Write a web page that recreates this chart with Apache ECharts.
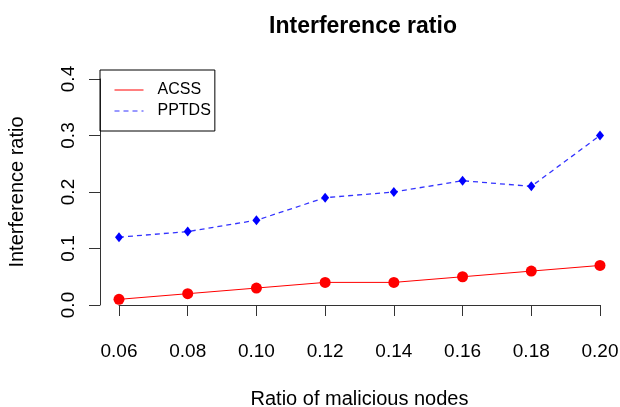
<!DOCTYPE html>
<html>
<head>
<meta charset="utf-8">
<script src="https://cdn.jsdelivr.net/npm/echarts@6/dist/echarts.min.js"></script>
<style>
  html, body { margin: 0; padding: 0; background: #fff; }
  #chart { width: 620px; height: 407px; }
</style>
</head>
<body>
<div id="chart"></div>
<script>
// values
var ratios = [0.06, 0.08, 0.10, 0.12, 0.14, 0.16, 0.18, 0.20];
var acss = [0.01, 0.02, 0.03, 0.04, 0.04, 0.05, 0.06, 0.07];
var pptds = [0.12, 0.13, 0.15, 0.19, 0.20, 0.22, 0.21, 0.30];

function pairs(xs, ys) {
    return xs.map(function(x, i) { return [x, ys[i]]; });
}

var FONT = 'Liberation Sans, Arial, sans-serif';

var chart = echarts.init(document.getElementById('chart'));

var option = {
    backgroundColor: '#fff',
    animation: false,
    title: {
        text: 'Interference ratio',
        left: 358,
        top: 10,
        textAlign: 'center',
        textStyle: { fontFamily: FONT, fontSize: 23, fontWeight: 'bold', color: '#000' }
    },
    legend: {
        left: 100,
        top: 70,
        orient: 'vertical',
        itemWidth: 29,
        itemHeight: 14,
        itemGap: 5,
        padding: [12, 4, 12, 14],
        borderColor: '#000',
        borderWidth: 1,
        borderRadius: 0,
        itemStyle: { opacity: 0 },
        lineStyle: { width: 1 },
        textStyle: { fontFamily: FONT, fontSize: 16, color: '#000', padding: [0, 0, 0, 9] },
        data: ['ACSS', 'PPTDS']
    },
    grid: { left: 119, right: 20, top: 79, bottom: 102, outerBoundsMode: 'none' },
    xAxis: {
        type: 'value',
        min: 0.06,
        max: 0.20,
        interval: 0.02,
        offset: 9,
        name: 'Ratio of malicious nodes',
        nameLocation: 'middle',
        nameGap: 75,
        nameTextStyle: { fontFamily: FONT, fontSize: 20, color: '#000' },
        splitLine: { show: false },
        axisLine: { lineStyle: { color: '#333', width: 1 } },
        axisTick: { length: 11, lineStyle: { color: '#333' } },
        axisLabel: {
            margin: 28,
            fontFamily: FONT,
            fontSize: 19,
            color: '#000',
            formatter: function(v) { return v.toFixed(2); }
        }
    },
    yAxis: {
        type: 'value',
        min: 0,
        max: 0.4,
        interval: 0.1,
        offset: 19,
        name: 'Interference ratio',
        nameLocation: 'middle',
        nameGap: 73,
        nameTextStyle: { fontFamily: FONT, fontSize: 20, color: '#000' },
        splitLine: { show: false },
        axisLine: { show: true, lineStyle: { color: '#333', width: 1 } },
        axisTick: { show: true, length: 11, lineStyle: { color: '#333' } },
        axisLabel: {
            rotate: 90,
            margin: 22,
            fontFamily: FONT,
            fontSize: 19,
            color: '#000',
            formatter: function(v) { return v.toFixed(1); }
        }
    },
    series: [
        {
            name: 'ACSS',
            type: 'line',
            clip: false,
            data: pairs(ratios, acss),
            symbol: 'circle',
            symbolSize: 11,
            itemStyle: { color: '#ff0000' },
            lineStyle: { color: '#ff0000', width: 1 }
        },
        {
            name: 'PPTDS',
            type: 'line',
            clip: false,
            data: pairs(ratios, pptds),
            symbol: 'diamond',
            symbolSize: [8, 10],
            itemStyle: { color: '#0000ff' },
            lineStyle: { color: '#3333ff', width: 1.3, type: [5, 4] }
        }
    ]
};

chart.setOption(option);
</script>
</body>
</html>
